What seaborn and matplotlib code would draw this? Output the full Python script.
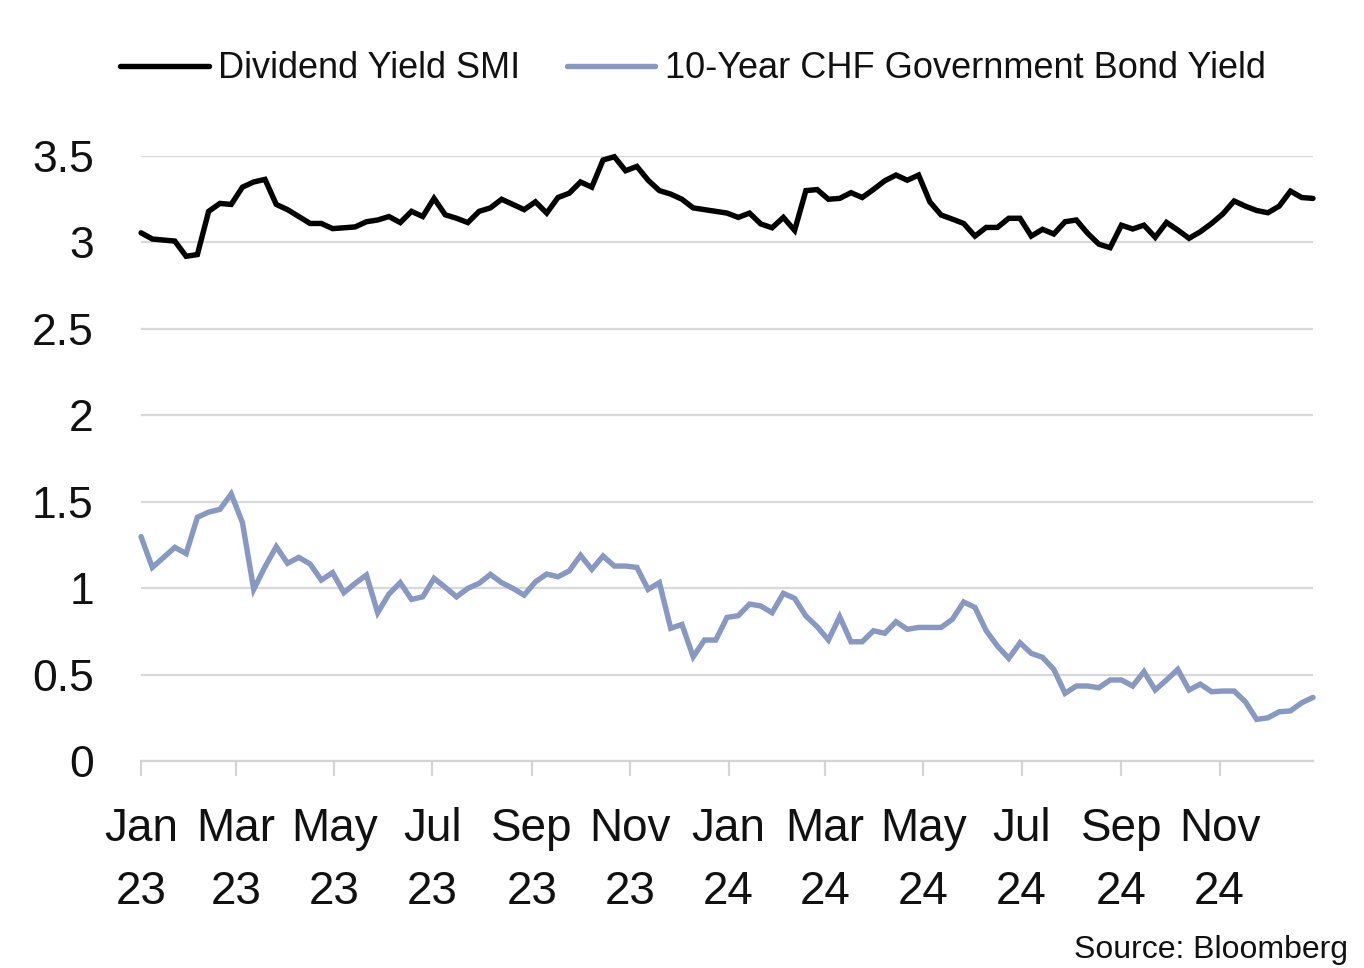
import matplotlib
matplotlib.use("Agg")
import matplotlib.pyplot as plt
import matplotlib.dates as mdates
import seaborn as sns
import pandas as pd

series_names = ["Dividend Yield SMI", "10-Year CHF Government Bond Yield"]
start_date = "2023-01-01"

dividend_yield_smi = [
    3.056, 3.02, 3.014, 3.008, 2.92, 2.93, 3.18, 3.226, 3.22, 3.32, 3.35, 3.365, 3.22,
    3.19, 3.15, 3.11, 3.11, 3.08, 3.085, 3.09, 3.12, 3.13, 3.15, 3.115, 3.18, 3.15,
    3.255, 3.16, 3.14, 3.115, 3.18, 3.2, 3.25, 3.22, 3.19, 3.235, 3.17, 3.26, 3.285,
    3.35, 3.32, 3.477, 3.496, 3.415, 3.44, 3.36, 3.30, 3.28, 3.25, 3.2, 3.19, 3.18,
    3.17, 3.145, 3.17, 3.107, 3.085, 3.145, 3.07, 3.30, 3.306, 3.25, 3.255, 3.288,
    3.26, 3.307, 3.357, 3.39, 3.36, 3.39, 3.235, 3.159, 3.135, 3.11, 3.037, 3.087, 3.087,
    3.14, 3.14, 3.037, 3.076, 3.049, 3.12, 3.13, 3.053, 2.99, 2.97, 3.10, 3.078, 3.10,
    3.03, 3.116, 3.072, 3.024, 3.062, 3.11, 3.165, 3.24, 3.21, 3.185, 3.172, 3.21,
    3.297, 3.26, 3.255,
]

chf_10y_yield = [
    1.298, 1.12, 1.178, 1.236, 1.20, 1.41, 1.44, 1.456, 1.545, 1.379, 0.993, 1.124, 1.24,
    1.144, 1.178, 1.14, 1.047, 1.09, 0.974, 1.028, 1.076, 0.858, 0.966, 1.032, 0.935, 0.95,
    1.057, 1.005, 0.95, 0.999, 1.028, 1.08, 1.032, 0.999, 0.96, 1.037, 1.082, 1.066, 1.10,
    1.19, 1.109, 1.186, 1.128, 1.128, 1.12, 0.993, 1.032, 0.768, 0.79, 0.603, 0.70, 0.70,
    0.831, 0.841, 0.908, 0.897, 0.858, 0.97, 0.941, 0.839, 0.777, 0.70, 0.835, 0.69, 0.69,
    0.754, 0.739, 0.806, 0.762, 0.773, 0.773, 0.773, 0.82, 0.92, 0.889, 0.754, 0.665,
    0.594, 0.684, 0.623, 0.60, 0.53, 0.392, 0.434, 0.434, 0.424, 0.469, 0.469, 0.434,
    0.517, 0.411, 0.469, 0.53, 0.411, 0.445, 0.401, 0.405, 0.405, 0.343, 0.241, 0.25,
    0.285, 0.29, 0.337, 0.368,
]

y_ticks = [0, 0.5, 1, 1.5, 2, 2.5, 3, 3.5]
y_tick_labels = ["0", "0.5", "1", "1.5", "2", "2.5", "3", "3.5"]
source_text = "Source: Bloomberg"

dates = pd.date_range(start_date, periods=len(dividend_yield_smi), freq="7D")
df = pd.concat([
    pd.DataFrame({"date": dates, "value": dividend_yield_smi, "series": series_names[0]}),
    pd.DataFrame({"date": dates, "value": chf_10y_yield, "series": series_names[1]}),
])

sns.set_theme(style="white")
plt.rcParams["font.family"] = ["Liberation Sans", "DejaVu Sans"]

fig = plt.figure(figsize=(13.64, 9.68), dpi=100)
ax = fig.add_axes([0.1034, 0.2138, 0.8592, 0.625])

palette = {series_names[0]: "#000000", series_names[1]: "#8799c2"}
sns.lineplot(data=df, x="date", y="value", hue="series", palette=palette,
             linewidth=3.9, ax=ax, legend=False, clip_on=False)
for ln in ax.lines:
    ln.set_solid_joinstyle("miter")

ax.set_ylim(0, 3.5)
ax.set_xlim(dates[0], dates[-1])
ax.set_yticks(y_ticks)
ax.set_yticklabels(y_tick_labels)
ax.yaxis.grid(True, color="#d9d9d9", linewidth=1.6)
ax.set_axisbelow(True)
ax.set_xlabel("")
ax.set_ylabel("")

for s in ["top", "right", "left"]:
    ax.spines[s].set_visible(False)
ax.spines["bottom"].set_color("#d4d4d4")
ax.spines["bottom"].set_linewidth(1.6)

ax.xaxis.set_major_locator(mdates.MonthLocator(bymonth=[1, 3, 5, 7, 9, 11]))
ax.xaxis.set_major_formatter(mdates.DateFormatter("%b\n%y"))
ax.tick_params(axis="x", which="major", direction="out", length=11, width=1.6,
               color="#d4d4d4", labelsize=33, pad=22, labelcolor="#111111", bottom=True)
ax.tick_params(axis="y", length=0, labelsize=32, pad=34, labelcolor="#111111")
for lbl in ax.get_xticklabels():
    lbl.set_linespacing(1.55)
    lbl.set_horizontalalignment("center")

handles = [plt.Line2D([], [], color=palette[n], linewidth=3.9) for n in series_names]
fig.legend(handles, series_names, loc="center", bbox_to_anchor=(0.508, 0.929),
           ncol=2, frameon=False, fontsize=26, handlelength=2.45, handletextpad=0.25,
           columnspacing=1.3, labelcolor="#111111")

fig.text(0.988, 0.0105, source_text, ha="right", va="baseline", fontsize=23, color="#111111")

fig.savefig("out.png", dpi=100)
